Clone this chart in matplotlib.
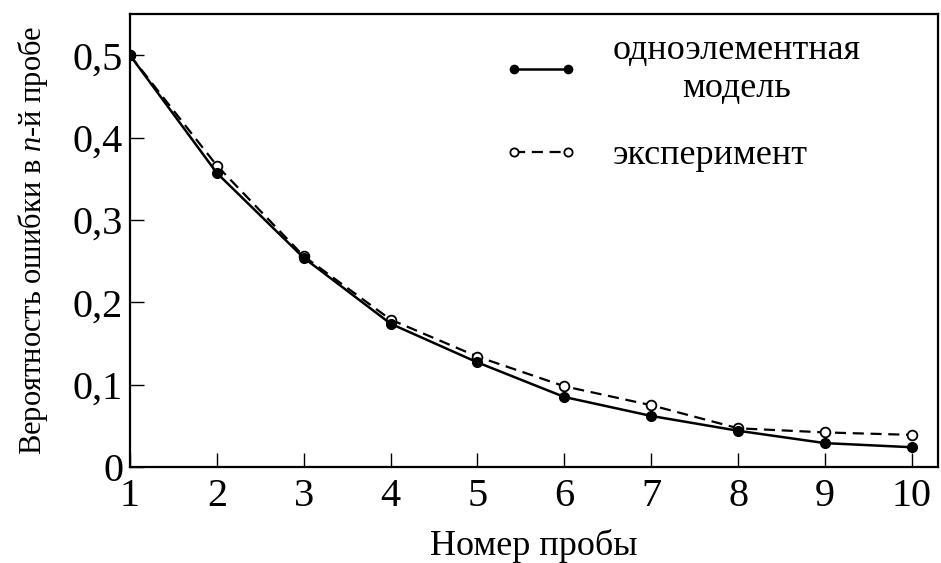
import numpy as np
import matplotlib
matplotlib.use("Agg")
import matplotlib.pyplot as plt

plt.rcParams['font.family'] = ['Liberation Serif', 'DejaVu Serif']
plt.rcParams['mathtext.fontset'] = 'custom'
plt.rcParams['mathtext.it'] = 'Liberation Serif:italic'
plt.rcParams['mathtext.rm'] = 'Liberation Serif'

## данные
trial = np.arange(1, 11)
model = [0.5, 0.357, 0.254, 0.174, 0.127, 0.085, 0.062, 0.044, 0.029, 0.024]
experiment = [0.5, 0.366, 0.256, 0.179, 0.134, 0.098, 0.075, 0.047, 0.042, 0.039]
yticks = [0, 0.1, 0.2, 0.3, 0.4, 0.5]
ytick_labels = ['0', '0,1', '0,2', '0,3', '0,4', '0,5']
label_model = 'одноэлементная\nмодель'
label_exp = 'эксперимент'

fig = plt.figure(figsize=(9.41, 5.63), dpi=100)
ax = fig.add_axes([0.1381, 0.1705, 0.8587, 0.8046])

ax.plot(trial, experiment, color='black', lw=1.6, ls=(0, (5, 3)),
        marker='o', ms=7, mfc='white', mec='black', mew=1.3, label=label_exp, zorder=3)
ax.plot(trial, model, color='black', lw=1.8, ls='-',
        marker='o', ms=7, mfc='black', mec='black', label=label_model, zorder=4)

ax.set_xlim(1, 10.3)
ax.set_ylim(0, 0.55)
ax.set_xticks(trial)
ax.set_yticks(yticks)
ax.set_yticklabels(ytick_labels)
ax.tick_params(direction='in', length=10, width=1.0, labelsize=29, top=False, right=False)
ax.tick_params(axis='x', pad=8)
ax.tick_params(axis='y', pad=5)
for s in ax.spines.values():
    s.set_linewidth(1.6)

ax.set_xlabel('Номер пробы', fontsize=26, labelpad=10)
ax.set_ylabel(r'Вероятность ошибки в $n$-й пробе', fontsize=22)
ax.yaxis.set_label_coords(-0.099, 0.5)

h, l = ax.get_legend_handles_labels()
leg = ax.legend(h[::-1], l[::-1], loc='upper right', bbox_to_anchor=(0.945, 1.028),
                frameon=False, fontsize=26, handlelength=2.1, handletextpad=0.95,
                labelspacing=0.95, borderpad=0.4, numpoints=2, markerscale=0.85)
for t in leg.get_texts():
    t.set_multialignment('center')

fig.savefig('out.png', dpi=100)
